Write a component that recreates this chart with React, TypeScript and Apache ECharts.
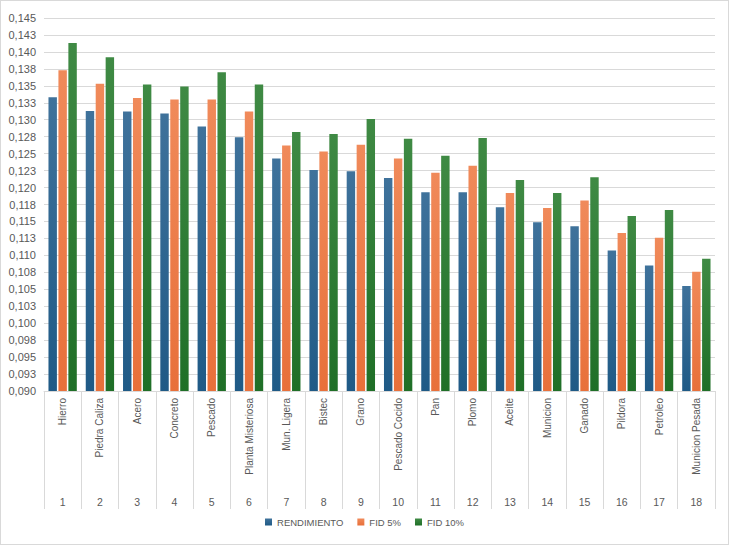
import React, { useEffect, useRef } from "react";
import * as echarts from "echarts";

const categories = [
  "Hierro", "Piedra Caliza", "Acero", "Concreto", "Pescado", "Planta Misteriosa",
  "Mun. Ligera", "Bistec", "Grano", "Pescado Cocido", "Pan", "Plomo",
  "Aceite", "Municion", "Ganado", "Pildora", "Petroleo", "Municion Pesada",
];
const groupNumbers = categories.map((_, i) => String(i + 1));

const rendimiento = [
  0.1333, 0.1313, 0.1312, 0.1309, 0.129, 0.1274, 0.1243, 0.1226, 0.1224,
  0.1214, 0.1193, 0.1193, 0.1171, 0.1149, 0.1143, 0.1107, 0.1085, 0.1055,
];
const fid5 = [
  0.1373, 0.1353, 0.1332, 0.133, 0.133, 0.1312, 0.1262, 0.1253, 0.1263,
  0.1243, 0.1222, 0.1232, 0.1192, 0.117, 0.1181, 0.1133, 0.1126, 0.1076,
];
const fid10 = [
  0.1413, 0.1392, 0.1352, 0.1349, 0.137, 0.1352, 0.1282, 0.1279, 0.1301,
  0.1272, 0.1247, 0.1273, 0.1211, 0.1192, 0.1215, 0.1158, 0.1167, 0.1095,
];

const grad = (top: string, bottom: string) =>
  new echarts.graphic.LinearGradient(0, 0, 0, 1, [
    { offset: 0, color: top },
    { offset: 1, color: bottom },
  ]);

const App: React.FC = () => {
  const chartRef = useRef<HTMLDivElement>(null);

  useEffect(() => {
    if (!chartRef.current) return;
    const chart = echarts.init(chartRef.current, undefined, { renderer: "svg" });
    const font = "'Liberation Sans', Arial, sans-serif";

    const option: echarts.EChartsOption = {
      animation: false,
      color: ["#2a6490", "#ed7d45", "#2e7d32"],
      textStyle: { fontFamily: font, color: "#595959" },
      grid: { left: 43, right: 13, top: 17, bottom: 153 },
      legend: {
        bottom: 12,
        itemWidth: 7,
        itemHeight: 7,
        icon: "rect",
        itemGap: 14,
        textStyle: { fontSize: 9.5, color: "#595959" },
        data: ["RENDIMIENTO", "FID 5%", "FID 10%"],
      },
      xAxis: [
        {
          type: "category",
          data: categories,
          axisLine: { lineStyle: { color: "#d9d9d9" } },
          axisTick: { show: true, length: 118, lineStyle: { color: "#d9d9d9" } },
          axisLabel: { rotate: 90, fontSize: 10, color: "#595959", margin: 7 },
        },
        {
          type: "category",
          data: groupNumbers,
          position: "bottom",
          offset: 97,
          axisLine: { show: false },
          axisTick: { show: false },
          axisLabel: { fontSize: 10.5, color: "#595959" },
        },
      ],
      yAxis: {
        type: "value",
        min: 0.09,
        max: 0.145,
        interval: 0.0025,
        axisLine: { show: false },
        axisTick: { show: false },
        splitLine: { lineStyle: { color: "#d9d9d9" } },
        axisLabel: {
          fontSize: 11,
          color: "#595959",
          formatter: (v: number) =>
            (Math.round(v * 1000 + 1e-6) / 1000).toFixed(3).replace(".", ","),
        },
      },
      series: [
        {
          name: "RENDIMIENTO",
          type: "bar",
          data: rendimiento,
          barGap: "18%",
          barCategoryGap: "24%",
          itemStyle: { color: grad("#3f729b", "#1f5a86") },
        },
        {
          name: "FID 5%",
          type: "bar",
          data: fid5,
          itemStyle: { color: grad("#f08a5a", "#e8703a") },
        },
        {
          name: "FID 10%",
          type: "bar",
          data: fid10,
          itemStyle: { color: grad("#3f8a44", "#1f6f27") },
        },
      ],
    };

    chart.setOption(option);
    return () => chart.dispose();
  }, []);

  return (
    <div
      style={{
        position: "absolute",
        left: 0,
        top: 0,
        width: 727,
        height: 543,
        border: "1px solid #d9d9d9",
        background: "#fff",
      }}
    >
      <div ref={chartRef} style={{ width: 727, height: 543 }} />
    </div>
  );
};

export default App;
